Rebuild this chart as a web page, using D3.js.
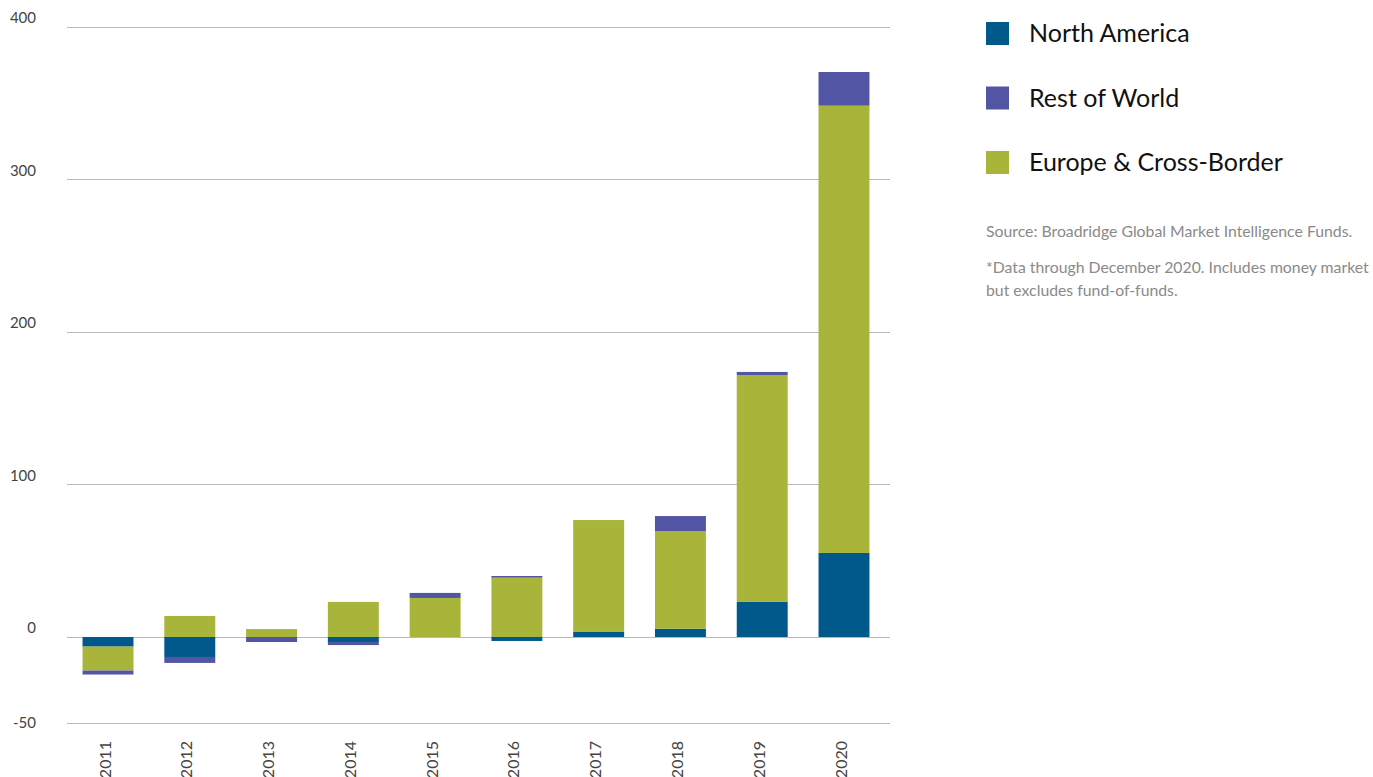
<!DOCTYPE html>
<html>
<head>
<meta charset="utf-8">
<script src="https://cdn.jsdelivr.net/npm/d3@7"></script>
<style>
  html, body { margin: 0; padding: 0; background: #fff; }
  #chart { width: 1373px; height: 777px; }
</style>
</head>
<body>
<div id="chart"></div>
<script>
// Net flows by region, 2011-2020
var years = ['2011', '2012', '2013', '2014', '2015', '2016', '2017', '2018', '2019', '2020'];
var northAmerica = [-6.3, -13.1, 0, -3.3, 0, -2.6, 3.3, 5.4, 23.0, 55.1];
var restOfWorld = [-2.6, -3.9, -3.3, -2.0, 3.3, 1.1, 0, 9.8, 2.0, 22.1];
var europeCross = [-15.7, 13.8, 5.2, 23.0, 25.6, 38.9, 73.4, 64.1, 148.8, 293.3];

var seriesNames = ['North America', 'Rest of World', 'Europe & Cross-Border'];
var seriesColors = ['#01588b', '#5254a4', '#a8b53a'];
var yTicks = [0, 100, 200, 300, 400];
var yBottomLabel = '-50';
var notes = [
  'Source: Broadridge Global Market Intelligence Funds.',
  '*Data through December 2020. Includes money market',
  'but excludes fund-of-funds.'
];

var FONT = 'Lato, "Open Sans", sans-serif';
var w = 1373, h = 777;

var svg = d3.select('#chart').append('svg').attr('width', w).attr('height', h);

var rows = years.map(function(y, i) {
  return { year: y, na: northAmerica[i], row: restOfWorld[i], eu: europeCross[i] };
});

// stacking order from the baseline out: NA, Europe, RoW
var stack = d3.stack().keys(['na', 'eu', 'row']).offset(d3.stackOffsetDiverging);
var layers = stack(rows);
var colorOf = { na: seriesColors[0], row: seriesColors[1], eu: seriesColors[2] };

var x = d3.scaleBand().domain(years).range([67, 885]).paddingInner(0.377).paddingOuter(0.19);
var y = d3.scaleLinear().domain([-56.4, 400]).range([723, 27]);

// Grid lines
svg.append('g').selectAll('line').data(yTicks.concat([y.domain()[0]])).join('line')
  .attr('x1', 67).attr('x2', 890)
  .attr('y1', function(d) { return Math.round(y(d)) + 0.5; })
  .attr('y2', function(d) { return Math.round(y(d)) + 0.5; })
  .attr('stroke', '#b8b8b8').attr('stroke-width', 1.2);

// Y tick labels
svg.append('g').selectAll('text').data(yTicks).join('text')
  .attr('x', 36).attr('y', function(d) { return y(d) - 9; })
  .attr('dy', '0.35em').attr('text-anchor', 'end')
  .attr('fill', '#444').attr('font-size', '15px').attr('font-family', FONT)
  .text(function(d) { return d; });
svg.append('text')
  .attr('x', 36).attr('y', y(y.domain()[0])).attr('dy', '0.35em').attr('text-anchor', 'end')
  .attr('fill', '#444').attr('font-size', '15px').attr('font-family', FONT)
  .text(yBottomLabel);

// Bars
svg.append('g').selectAll('g').data(layers).join('g')
  .attr('fill', function(d) { return colorOf[d.key]; })
  .selectAll('rect').data(function(d) { return d; }).join('rect')
  .attr('x', function(d) { return x(d.data.year); })
  .attr('width', x.bandwidth())
  .attr('y', function(d) { return y(Math.max(d[0], d[1])); })
  .attr('height', function(d) { return Math.abs(y(d[0]) - y(d[1])); });

// Year labels, rotated
svg.append('g').selectAll('text').data(years).join('text')
  .attr('transform', function(d) {
    return 'translate(' + (x(d) + x.bandwidth() / 2 - 3) + ',741) rotate(-90)';
  })
  .attr('dy', '0.35em').attr('text-anchor', 'end')
  .attr('fill', '#444').attr('font-size', '16px').attr('font-family', FONT)
  .text(function(d) { return d; });

// Legend
var lg = svg.append('g').attr('transform', 'translate(986,22)');
seriesNames.forEach(function(name, i) {
  lg.append('rect').attr('x', 0).attr('y', i * 64.5).attr('width', 23).attr('height', 23)
    .attr('fill', seriesColors[i]);
  lg.append('text').attr('x', 43).attr('y', i * 64.5 + 11.5).attr('dy', '0.35em')
    .attr('fill', '#111').attr('font-size', '25px').attr('font-family', FONT)
    .text(name);
});

// Source notes
svg.append('text').attr('x', 986).attr('y', 237)
  .attr('fill', '#8a8a8a').attr('font-size', '15.8px').attr('font-family', FONT)
  .text(notes[0]);
svg.append('text').attr('x', 986).attr('y', 273)
  .attr('fill', '#8a8a8a').attr('font-size', '15.8px').attr('font-family', FONT)
  .text(notes[1]);
svg.append('text').attr('x', 986).attr('y', 296)
  .attr('fill', '#8a8a8a').attr('font-size', '15.8px').attr('font-family', FONT)
  .text(notes[2]);
</script>
</body>
</html>
